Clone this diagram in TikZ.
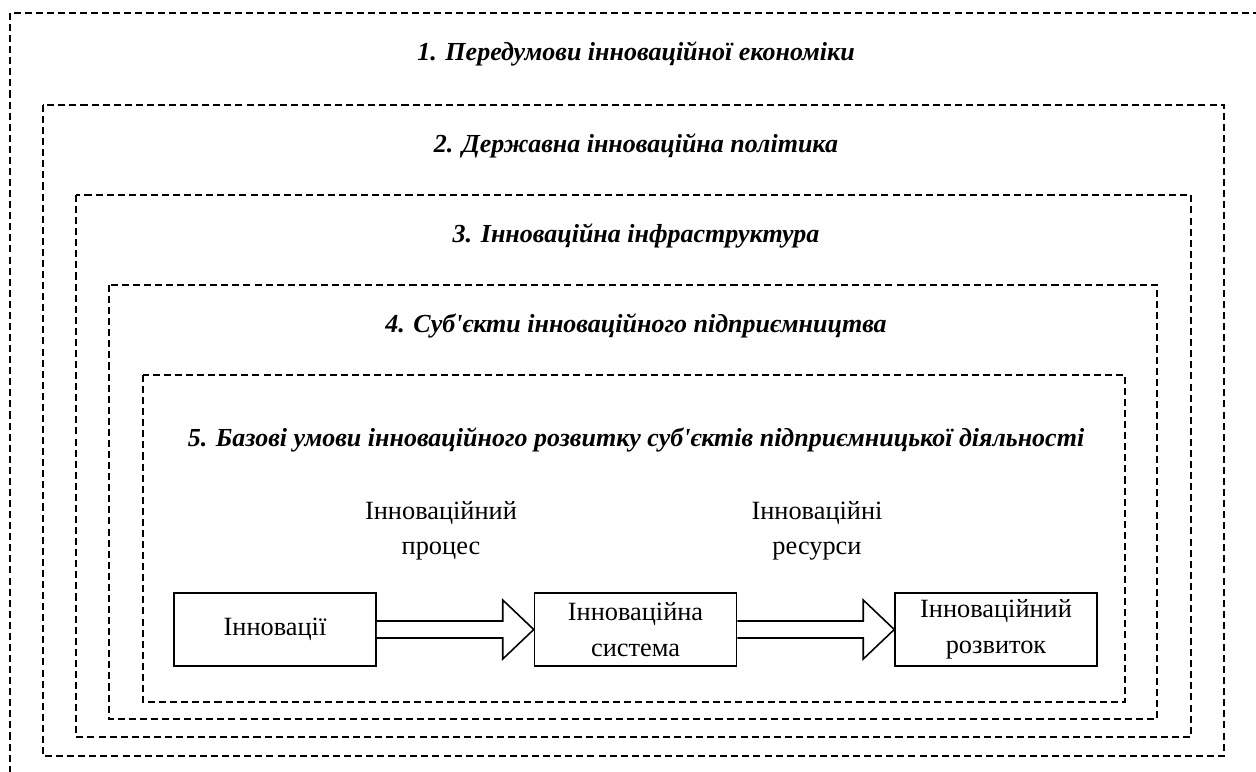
\documentclass[tikz,border=0pt]{standalone}
\usepackage{fontspec}
\setmainfont{Liberation Serif}
\usetikzlibrary{positioning,calc}

\begin{document}
\begin{tikzpicture}[
    x=0.02cm, y=-0.02cm,
    frame/.style={draw, line width=1.1pt, dash pattern=on 4pt off 2.3pt},
    leveltitle/.style={anchor=base, font=\fontsize{14.8}{18}\selectfont\bfseries\itshape},
    stage/.style={rectangle, draw, line width=0.9pt, minimum width=4.04cm,
        minimum height=1.46cm, align=center, inner sep=2pt,
        font=\fontsize{15}{20.5}\selectfont},
    flowlabel/.style={align=center, font=\fontsize{15}{20}\selectfont},
    bigarrow/.style={draw, line width=0.9pt, fill=white, line join=miter}
]
\path[use as bounding box, clip] (0,0) rectangle (1256,771);

% nested levels
\draw[frame] (10,13) rectangle (1275,790);
\draw[frame] (43,105) rectangle (1224,756);
\draw[frame] (76,195) rectangle (1191,737);
\draw[frame] (109,285) rectangle (1157,719);
\draw[frame] (143,375) rectangle (1125,702);

\node[leveltitle] (lvl1) at (636,60) {1. Передумови інноваційної економіки};
\node[leveltitle] (lvl2) at (636,152) {2. Державна інноваційна політика};
\node[leveltitle] (lvl3) at (636,242) {3. Інноваційна інфраструктура};
\node[leveltitle] (lvl4) at (636,332) {4. Суб\textquotesingle{}єкти інноваційного підприємництва};
\node[leveltitle] (lvl5) at (636,446) {5. Базові умови інноваційного розвитку суб\textquotesingle{}єктів підприємницької діяльності};

% chain
\node[stage] (inno) at (275,629.5) {Інновації};
\node[stage, right=3.14cm of inno] (sys) {Інноваційна\\система};
\node[stage, right=3.14cm of sys] (dev) {Інноваційний\\розвиток};

\node[flowlabel] (proc) at (441,531) {Інноваційний\\процес};
\node[flowlabel] (res) at (817,531) {Інноваційні\\ресурси};

\draw[bigarrow] ($(inno.east)+(0,-8.5)$) -- ($(sys.west)+(-31,-8.5)$)
    -- ($(sys.west)+(-31,-29.5)$) -- (sys.west) -- ($(sys.west)+(-31,29.5)$)
    -- ($(sys.west)+(-31,8.5)$) -- ($(inno.east)+(0,8.5)$);
\draw[bigarrow] ($(sys.east)+(0,-8.5)$) -- ($(dev.west)+(-31,-8.5)$)
    -- ($(dev.west)+(-31,-29.5)$) -- (dev.west) -- ($(dev.west)+(-31,29.5)$)
    -- ($(dev.west)+(-31,8.5)$) -- ($(sys.east)+(0,8.5)$);
\end{tikzpicture}
\end{document}
